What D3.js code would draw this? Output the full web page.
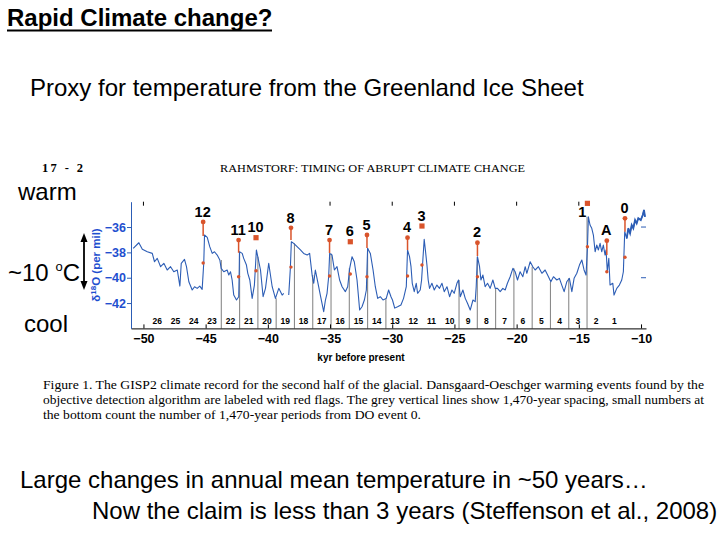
<!DOCTYPE html>
<html><head><meta charset="utf-8">
<script src="https://cdn.jsdelivr.net/npm/d3@7"></script>
<style>body{margin:0;background:#fff}svg{display:block}</style>
</head><body>
<svg id="c" width="720" height="540"></svg>
<script>
// ---------- data ----------
// GISP2 δ18O record (kyr before present, per mil)
const gisp2 = [
[-50.82,-37.68],[-50.37,-37.24],[-50.09,-37.76],[-49.69,-37.95],[-49.29,-38.08],[-49.11,-38.74],
[-48.89,-38.47],[-48.62,-39.13],[-48.36,-38.86],[-48.09,-39.39],[-47.82,-39.13],[-47.56,-39.53],
[-47.28,-39.39],[-47.07,-40.66],[-46.96,-38.86],[-46.70,-38.55],[-46.54,-39.13],[-46.35,-40.32],
[-46.08,-40.97],[-45.89,-40.71],[-45.68,-40.84],[-45.47,-40.66],[-45.28,-40.92],[-45.15,-38.82],
[-45.09,-36.63],[-44.87,-36.81],[-44.67,-37.55],[-44.47,-38.08],[-44.29,-37.95],[-44.07,-38.21],
[-43.86,-38.60],[-43.75,-39.26],[-43.54,-39.53],[-43.27,-39.39],[-43.14,-39.79],[-43.00,-39.53],
[-42.87,-40.18],[-42.74,-41.37],[-42.52,-41.76],[-42.34,-41.50],[-42.30,-39.39],[-42.28,-37.95],
[-42.06,-38.08],[-41.94,-38.47],[-41.72,-39.00],[-41.61,-39.65],[-41.45,-40.18],[-41.26,-41.63],
[-41.08,-40.58],[-40.92,-37.81],[-40.81,-38.34],[-40.59,-39.39],[-40.38,-41.50],[-40.19,-40.84],
[-39.93,-38.86],[-39.65,-40.71],[-39.39,-41.63],[-39.12,-40.84],[-38.85,-41.37],[-38.72,-41.23],
[-38.52,null],
[-38.32,-41.37],[-38.19,-39.26],[-38.11,-37.16],[-37.92,-37.29],[-37.65,-37.55],[-37.38,-37.81],
[-37.12,-38.08],[-36.84,-38.21],[-36.64,-38.08],[-36.44,-39.79],[-36.31,-40.44],[-36.18,-39.39],
[-35.99,-40.32],[-35.78,-41.37],[-35.51,-42.68],[-35.37,-41.76],[-35.24,-41.23],[-35.11,-39.92],
[-35.03,-38.08],[-34.84,-38.21],[-34.65,-39.39],[-34.44,-39.13],[-34.23,-40.18],[-34.03,-40.71],
[-33.77,-41.10],[-33.58,-40.71],[-33.42,-39.26],[-33.23,-38.34],[-33.05,-38.74],[-32.83,-40.18],
[-32.62,-42.55],[-32.43,-42.29],[-32.24,-41.76],[-32.08,-40.97],[-31.98,-37.68],[-31.76,-38.08],
[-31.54,-39.39],[-31.36,-40.71],[-31.17,-41.63],[-30.96,-41.50],[-30.74,-41.76],[-30.48,-41.63],
[-30.29,-40.97],[-30.10,-41.50],[-29.98,-41.76],[-29.80,-42.40],[-29.57,-42.29],[-29.30,-42.15],
[-29.09,-41.63],[-28.87,-40.71],[-28.77,-37.81],[-28.61,-38.34],[-28.49,-39.13],[-28.39,-40.44],
[-28.23,-41.10],[-28.07,-40.44],[-27.96,-41.23],[-27.75,-40.97],[-27.64,-40.18],[-27.53,-38.47],
[-27.43,-36.97],[-27.32,-37.95],[-27.21,-39.00],[-27.11,-40.18],[-27.00,-40.84],[-26.81,-40.44],
[-26.62,-40.97],[-26.41,-40.58],[-26.20,-40.84],[-26.00,-40.44],[-25.82,-41.10],[-25.60,-40.71],
[-25.39,-41.50],[-25.20,-40.97],[-25.02,-41.23],[-24.80,-40.44],[-24.67,-40.18],[-24.53,-41.50],
[-24.32,-40.97],[-24.13,-41.63],[-23.95,-42.02],[-23.73,-42.55],[-23.51,-41.76],[-23.33,-41.89],
[-23.25,-40.71],[-23.15,-38.34],[-22.98,-39.13],[-22.87,-40.18],[-22.71,-39.79],[-22.53,-40.71],
[-22.34,-40.44],[-22.13,-40.84],[-21.91,-40.18],[-21.72,-40.84],[-21.54,-40.84],[-21.32,-41.10],
[-21.11,-40.84],[-20.92,-40.97],[-20.74,-40.44],[-20.52,-39.92],[-20.30,-39.26],[-20.12,-39.53],
[-19.93,-40.18],[-19.72,-39.53],[-19.50,-39.92],[-19.31,-39.13],[-19.18,-39.65],[-18.91,-38.74],
[-18.70,-39.13],[-18.51,-39.39],[-18.25,-39.13],[-17.97,-39.65],[-17.71,-39.39],[-17.44,-39.92],
[-17.25,-40.32],[-17.04,-39.92],[-16.77,-40.18],[-16.56,-40.05],[-16.37,-40.58],[-16.18,-41.10],
[-15.97,-40.32],[-15.76,-40.05],[-15.56,-41.10],[-15.38,-40.05],[-15.16,-39.65],[-14.95,-39.00],
[-14.76,-38.60],[-14.58,-39.39],[-14.42,-39.79],[-14.31,-37.68],[-14.23,-35.19],[-14.10,-35.84],
[-13.96,-36.10],[-13.83,-36.63],[-13.69,-37.95],[-13.56,-37.42],[-13.43,-37.81],[-13.29,-37.29],
[-13.16,-37.95],[-13.03,-37.42],[-12.89,-38.21],[-12.81,-37.81],[-12.71,-39.53],[-12.59,-38.47],
[-12.49,-40.58],[-12.27,-40.44],[-12.17,-41.37],[-11.95,-40.84],[-11.74,-40.58],[-11.55,-40.18],
[-11.42,-39.53],[-11.31,-36.37],[-11.15,-36.89],[-11.02,-36.10],[-10.88,-36.50],[-10.75,-35.84],
[-10.62,-36.10],[-10.48,-35.45],[-10.35,-35.71],[-10.22,-35.31],[-10.02,-35.45],[-9.86,-35.05],
[-9.76,-34.66],[-9.68,-35.19]
];

// Dansgaard-Oeschger events (red flags)
const eventLabels = ["12","11","10","8","7","6","5","4","3","2","1","A","0"];
const eventAges   = [-45.2,-42.35,-40.95,-38.14,-35.04,-33.37,-32.03,-28.77,-27.61,-23.15,-14.31,-12.75,-11.29];
const flagTops    = [-35.6,-37.03,-36.84,-36.06,-37.03,-37.16,-36.63,-36.84,-35.92,-37.24,-34.13,-37.08,-35.31];
const flagBases   = [-36.7,-38.03,null,-37.03,-38.05,null,-37.66,-37.82,null,-38.29,null,-38.21,-36.37];
const lowerMarks  = [-38.84,-39.92,-39.45,-39.16,-39.87,-39.71,-39.92,-39.87,-39.0,-39.92,-37.55,-39.53,-38.39];

// 1,470-year grid lines (kyr) and period counts
const greyLines = [-14.34,-15.81,-17.28,-18.75,-20.22,-21.69,-23.16,-24.63,
                   -30.51,-31.98,-33.45,-34.92,-36.39,-37.86,-39.33,-40.80,-42.27,-43.74];
const periodCounts = d3.range(1,27);
const periodAges = [-12.14,-13.61,-15.08,-16.55,-18.02,-19.49,-20.96,-22.43,-23.90,-25.37,-26.84,-28.31,-29.78,
                    -31.25,-32.72,-34.19,-35.66,-37.13,-38.60,-40.07,-41.54,-43.01,-44.48,-45.95,-47.42,-48.89];

const xTicks = [-50,-45,-40,-35,-30,-25,-20,-15,-10];
const xTopTicks = [-50,-35,-30,-25,-20,-15];
const yTicks = [-36,-38,-40,-42];
const yRightTicks = [-36,-40];

// ---------- drawing ----------
const svg = d3.select("#c");
const SANS = "'Liberation Sans', Arial, Helvetica, sans-serif";
const SERIF = "'Liberation Serif', 'Times New Roman', serif";
const BLUE = "#2c5db5", BLUET = "#1f4fcf", RED = "#d9542b", GREY = "#8a8a8a";

const x = d3.scaleLinear().domain([-51, -9.6]).range([131, 646]);
const y = d3.scaleLinear().domain([-44, -34]).range([328.4, 201.7]);

// slide texts
svg.append("text").attr("x",7).attr("y",26).attr("font-family",SANS).attr("font-weight","bold")
  .attr("font-size",24).text("Rapid Climate change?");
svg.append("line").attr("x1",7).attr("x2",272).attr("y1",30.5).attr("y2",30.5).attr("stroke","#000").attr("stroke-width",2);
svg.append("text").attr("x",30).attr("y",96).attr("font-family",SANS).attr("font-size",24)
  .text("Proxy for temperature from the Greenland Ice Sheet");
svg.append("text").attr("x",18).attr("y",200).attr("font-family",SANS).attr("font-size",24).text("warm");
svg.append("text").attr("x",24).attr("y",332).attr("font-family",SANS).attr("font-size",24).text("cool");
const tt = svg.append("text").attr("x",8).attr("y",281).attr("font-family",SANS).attr("font-size",24);
tt.append("tspan").text("~10 ");
tt.append("tspan").attr("font-size",13).attr("dy",-10).text("o");
tt.append("tspan").attr("dy",10).text("C");

// double arrow
svg.append("line").attr("x1",84).attr("x2",84).attr("y1",240).attr("y2",283).attr("stroke","#000").attr("stroke-width",1.8);
svg.append("path").attr("d","M84,233 L80.5,242 L87.5,242 Z").attr("fill","#000");
svg.append("path").attr("d","M84,290 L80.5,281 L87.5,281 Z").attr("fill","#000");

// figure header
svg.append("text").attr("x",42).attr("y",172).attr("font-family",SERIF).attr("font-weight","bold")
  .attr("font-size",12.5).attr("textLength",41).attr("lengthAdjust","spacing").text("17 - 2");
svg.append("text").attr("x",220).attr("y",172).attr("font-family",SERIF).attr("font-size",11)
  .attr("textLength",305).attr("lengthAdjust","spacingAndGlyphs").text("RAHMSTORF: TIMING OF ABRUPT CLIMATE CHANGE");

// grey 1470-year lines
function topNear(t){
  let m = -Infinity;
  gisp2.forEach(d=>{ if(d[1]!==null && Math.abs(d[0]-t)<=0.12) m=Math.max(m,d[1]); });
  if(m===-Infinity){
    const i = d3.bisector(d=>d[0]).left(gisp2,t);
    m = gisp2[Math.max(0,i-1)][1];
  }
  return m;
}
svg.append("g").selectAll("line").data(greyLines).join("line")
  .attr("x1",d=>x(d)).attr("x2",d=>x(d)).attr("y1",y(-44)).attr("y2",d=>y(topNear(d)))
  .attr("stroke",GREY).attr("stroke-width",1.1);

// curve
const line = d3.line().defined(d=>d[1]!==null).x(d=>x(d[0])).y(d=>y(d[1]));
svg.append("path").datum(gisp2).attr("d",line).attr("fill","none").attr("stroke",BLUE)
  .attr("stroke-width",1.1).attr("stroke-linejoin","round");
svg.append("path").datum(gisp2.filter(d=>d[0]>=-11.2)).attr("d",line).attr("fill","none").attr("stroke",BLUE)
  .attr("stroke-width",1.8);

// axes
const gx = svg.append("g").attr("transform",`translate(0,${y(-44)})`)
  .call(d3.axisBottom(x).tickValues(xTicks).tickSize(-4).tickSizeOuter(0).tickPadding(6)
  .tickFormat(d=>"\u2212"+Math.abs(d)));
gx.select(".domain").attr("stroke","#000");
gx.selectAll("text").attr("font-family",SANS).attr("font-weight","bold").attr("font-size",12.5).attr("fill","#000");

const gy = svg.append("g").attr("transform",`translate(${x(-51)},0)`)
  .call(d3.axisLeft(y).tickValues(yTicks).tickSize(4).tickSizeOuter(0).tickPadding(1)
  .tickFormat(d=>"\u2212"+Math.abs(d)));
gy.select(".domain").attr("stroke",BLUE);
gy.selectAll(".tick line").attr("stroke",BLUE);
gy.selectAll("text").attr("font-family",SANS).attr("font-weight","bold").attr("font-size",12.5).attr("fill",BLUET);

svg.append("g").selectAll("line").data(xTopTicks).join("line")
  .attr("x1",d=>x(d)).attr("x2",d=>x(d)).attr("y1",y(-34)).attr("y2",y(-34)+4).attr("stroke","#000");
svg.append("g").selectAll("line").data(yRightTicks).join("line")
  .attr("x1",x(-9.6)-5).attr("x2",x(-9.6)).attr("y1",d=>y(d)).attr("y2",d=>y(d)).attr("stroke",BLUE);

// y label
svg.append("text").attr("transform",`translate(100,265) rotate(-90)`).attr("text-anchor","middle")
  .attr("font-family",SANS).attr("font-weight","bold").attr("font-size",11.5).attr("fill",BLUET)
  .call(t=>{ t.append("tspan").text("\u03b4");
            t.append("tspan").attr("font-size",8).attr("dy",-4).text("18");
            t.append("tspan").attr("dy",4).text("O (per mil)"); });

svg.append("text").attr("x",361).attr("y",361).attr("text-anchor","middle").attr("font-family",SANS)
  .attr("font-weight","bold").attr("font-size",10).text("kyr before present");

// period counts
svg.append("g").selectAll("text").data(periodCounts).join("text")
  .attr("x",(d,i)=>x(periodAges[i])).attr("y",324).attr("text-anchor","middle")
  .attr("font-family",SANS).attr("font-weight","bold").attr("font-size",8.5).text(d=>d);

// event flags
const ev = eventLabels.map((l,i)=>({l,t:eventAges[i],top:flagTops[i],base:flagBases[i],low:lowerMarks[i]}));
const ge = svg.append("g");
ge.selectAll("line").data(ev.filter(d=>d.base!==null)).join("line")
  .attr("x1",d=>x(d.t)).attr("x2",d=>x(d.t)).attr("y1",d=>y(d.top)).attr("y2",d=>y(d.base))
  .attr("stroke",RED).attr("stroke-width",1.5);
ge.selectAll("circle.top").data(ev.filter(d=>d.base!==null)).join("circle").attr("class","top")
  .attr("cx",d=>x(d.t)).attr("cy",d=>y(d.top)).attr("r",2.4).attr("fill",RED);
ge.selectAll("rect").data(ev.filter(d=>d.base===null)).join("rect")
  .attr("x",d=>x(d.t)-2.6).attr("y",d=>y(d.top)-2.6).attr("width",5.2).attr("height",5.2).attr("fill",RED);
ge.selectAll("circle.low").data(ev).join("circle").attr("class","low")
  .attr("cx",d=>x(d.t)).attr("cy",d=>y(d.low)).attr("r",1.7).attr("fill",RED);
ge.selectAll("text").data(ev).join("text")
  .attr("x",d=>d.l==="1"? x(d.t)-5 : x(d.t)-0.5)
  .attr("y",d=>d.l==="1"? y(d.top)+14 : y(d.top)-5.3)
  .attr("text-anchor","middle").attr("font-family",SANS).attr("font-weight","bold").attr("font-size",14.5)
  .text(d=>d.l);

// caption
const cap = [
 "Figure 1.   The GISP2 climate record for the second half of the glacial. Dansgaard-Oeschger warming events found by the",
 "objective detection algorithm are labeled with red flags. The grey vertical lines show 1,470-year spacing, small numbers at",
 "the bottom count the number of 1,470-year periods from DO event 0."
];
cap.forEach((s,i)=>{
  const t = svg.append("text").attr("x",43).attr("y",389+i*15).attr("font-family",SERIF).attr("font-size",12.5).text(s);
  if(i<2) t.attr("textLength",661).attr("lengthAdjust","spacingAndGlyphs");
  else t.attr("textLength",378).attr("lengthAdjust","spacingAndGlyphs");
});

// bottom texts
svg.append("text").attr("x",20).attr("y",488).attr("font-family",SANS).attr("font-size",24)
  .text("Large changes in annual mean temperature in ~50 years\u2026");
svg.append("text").attr("x",92).attr("y",519).attr("font-family",SANS).attr("font-size",24)
  .text("Now the claim is less than 3 years (Steffenson et al., 2008)");
</script>
</body></html>
